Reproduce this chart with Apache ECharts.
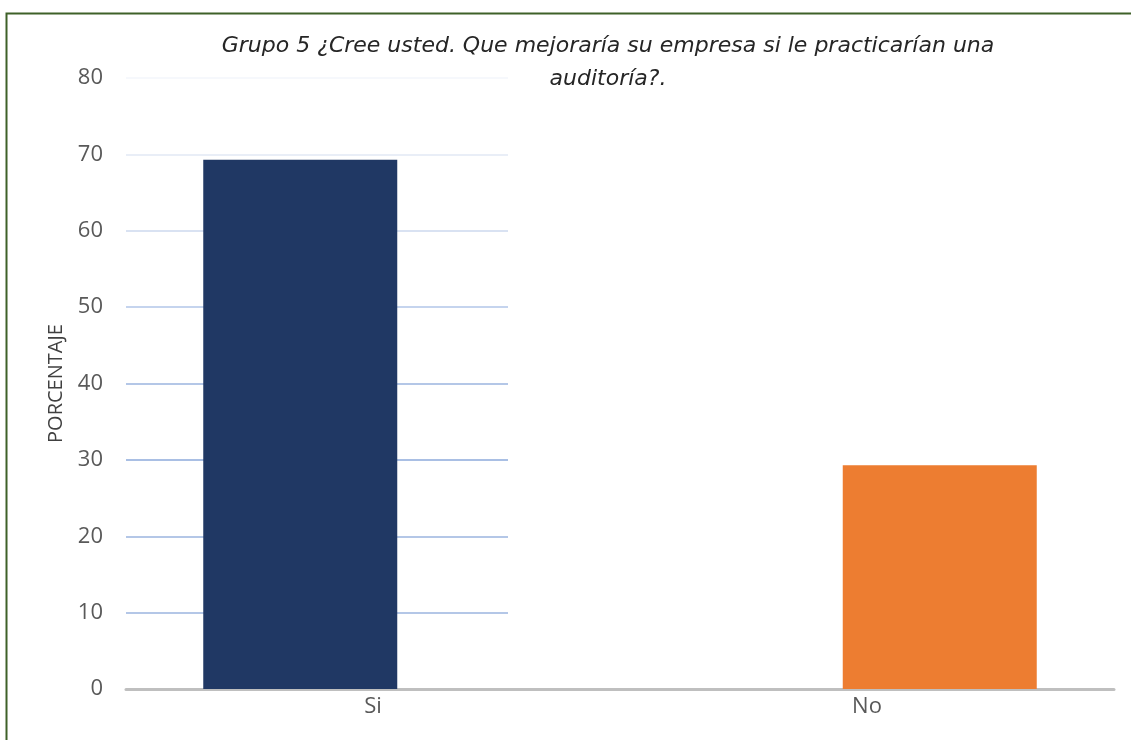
<!DOCTYPE html>
<html>
<head>
<meta charset="utf-8">
<script src="https://cdn.jsdelivr.net/npm/echarts@6/dist/echarts.min.js"></script>
<style>
html, body { margin: 0; padding: 0; background: #fff; }
#chart { width: 1131px; height: 740px; }
</style>
</head>
<body>
<div id="chart"></div>
<script>
var titleText = 'Grupo 5 ¿Cree usted. Que mejoraría su empresa si le practicarían una\nauditoría?.';
var categories = ['Si', 'No'];
var siValues = [69.3, '-'];
var noValues = ['-', 29.3];
var barColors = ['#203864', '#ed7d31'];
var yTicks = [0, 10, 20, 30, 40, 50, 60, 70, 80];
// gridline tint per tick, lighter towards the top
var gridColors = ['#b4c7e7', '#b4c7e7', '#b4c7e7', '#a9bfe4', '#b4c7e7', '#c5d4ee', '#d9e2f2', '#e9eef7', '#f6f8fc'];

var chart = echarts.init(document.getElementById('chart'));

var labelFont = { color: '#595959', fontSize: 22, fontFamily: 'Open Sans' };

var option = {
    animation: false,
    backgroundColor: '#fff',
    title: {
        text: titleText,
        left: 603,
        top: 25,
        textAlign: 'center',
        textStyle: {
            fontFamily: 'DejaVu Sans',
            fontStyle: 'italic',
            fontWeight: 'normal',
            fontSize: 22,
            color: '#262626',
            lineHeight: 33
        }
    },
    graphic: [{
        type: 'rect',
        shape: { x: 6.5, y: 13.5, width: 1200, height: 800 },
        style: { fill: 'none', stroke: '#3f6129', lineWidth: 2 },
        silent: true
    }],
    grid: [
        { left: 126, right: 17, top: 78, bottom: 51 },
        { left: 126, width: 382, top: 78, bottom: 51 }
    ],
    xAxis: [{
        type: 'category',
        gridIndex: 0,
        data: categories,
        axisLine: { lineStyle: { color: '#bfbfbf', width: 3 } },
        axisTick: { show: false },
        axisLabel: Object.assign({ margin: 7 }, labelFont)
    }, {
        type: 'value',
        gridIndex: 1,
        show: false
    }],
    yAxis: [{
        type: 'value',
        gridIndex: 0,
        min: yTicks[0],
        max: yTicks[yTicks.length - 1],
        interval: 10,
        name: 'PORCENTAJE',
        nameLocation: 'middle',
        nameGap: 60,
        nameTextStyle: { color: '#404040', fontSize: 20, fontFamily: 'Open Sans' },
        axisLine: { show: false },
        axisTick: { show: false },
        splitLine: { show: false },
        axisLabel: Object.assign({ margin: 23 }, labelFont)
    }, {
        type: 'value',
        gridIndex: 1,
        min: yTicks[0],
        max: yTicks[yTicks.length - 1],
        interval: 10,
        axisLine: { show: false },
        axisTick: { show: false },
        axisLabel: { show: false },
        splitLine: { lineStyle: { color: gridColors, width: 2 } }
    }],
    series: [{
        name: 'Si',
        type: 'bar',
        xAxisIndex: 0,
        yAxisIndex: 0,
        barWidth: 194,
        barGap: '-25%',
        z: 5,
        itemStyle: { color: barColors[0] },
        data: siValues
    }, {
        name: 'No',
        type: 'bar',
        xAxisIndex: 0,
        yAxisIndex: 0,
        barWidth: 194,
        barGap: '-25%',
        z: 5,
        itemStyle: { color: barColors[1] },
        data: noValues
    }]
};

chart.setOption(option);
</script>
</body>
</html>
